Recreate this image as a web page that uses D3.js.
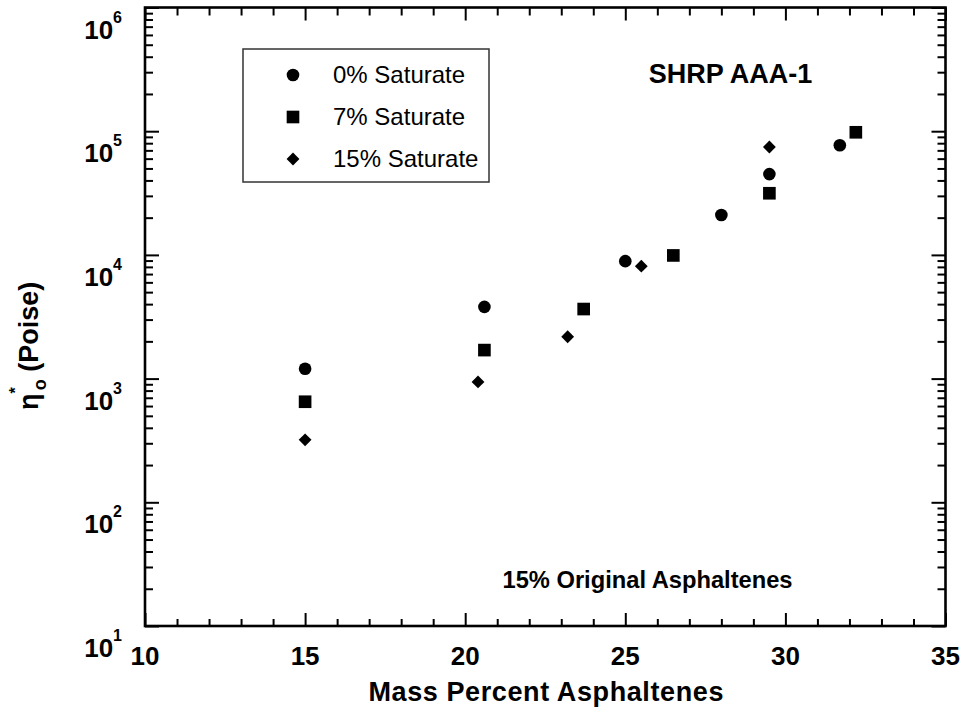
<!DOCTYPE html>
<html>
<head>
<meta charset="utf-8">
<script src="https://cdn.jsdelivr.net/npm/d3@7"></script>
<style>
	body { margin: 0; background: #fff; }
	text { font-family: "Liberation Sans", Arial, Helvetica, sans-serif; fill: #000; }
</style>
</head>
<body>
<div id="chart_viscosity"></div>
<script>
////////////////////////////////////////////////////////////////////////////////////////
// data
////////////////////////////////////////////////////////////////////////////////////////
var sat0X  = [15, 20.6, 25.0, 28.0, 29.5, 31.7];
var sat0Y  = [1200, 3800, 8900, 21000, 45000, 77000];
var sat7X  = [15, 20.6, 23.7, 26.5, 29.5, 32.2];
var sat7Y  = [650, 1700, 3650, 9900, 31500, 98000];
var sat15X = [15, 20.4, 23.2, 25.5, 29.5];
var sat15Y = [320, 940, 2180, 8100, 74500];

var seriesNames = ["0% Saturate", "7% Saturate", "15% Saturate"];
var xMajorTicks = [10, 15, 20, 25, 30, 35];
var yMajorTicks = [10, 100, 1000, 10000, 100000, 1000000];

////////////////////////////////////////////////////////////////////////////////////////
// chart
////////////////////////////////////////////////////////////////////////////////////////
function drawViscosityChart() {
	var W = 967, H = 711;
	var margin = {top: 7.5, right: 21.5, bottom: 85, left: 145};
	var width = W - margin.left - margin.right,
		height = H - margin.top - margin.bottom;

	var svg = d3.select("#chart_viscosity")
		.append("svg")
		.attr("width", W)
		.attr("height", H);

	var g = svg.append("g")
		.attr("transform", `translate(${margin.left},${margin.top})`);

	var x = d3.scaleLinear().domain([10, 35]).range([0, width]);
	var y = d3.scaleLog().domain([10, 1e6]).range([height, 0]);

	// minor ticks
	var xMinorTicks = d3.range(10, 36, 1).filter(function (v) { return xMajorTicks.indexOf(v) < 0; });
	var yMinorTicks = [];
	for (var e = 1; e < 6; e++) {
		for (var m = 2; m < 10; m++) yMinorTicks.push(m * Math.pow(10, e));
	}

	function tickAxis(axis, values, size) {
		return axis.tickValues(values).tickSize(size).tickFormat("");
	}

	var axes = [
		[tickAxis(d3.axisBottom(x), xMajorTicks, -13), `translate(0,${height})`],
		[tickAxis(d3.axisBottom(x), xMinorTicks, -7), `translate(0,${height})`],
		[tickAxis(d3.axisTop(x), xMajorTicks, -13), "translate(0,0)"],
		[tickAxis(d3.axisTop(x), xMinorTicks, -8), "translate(0,0)"],
		[tickAxis(d3.axisLeft(y), yMajorTicks, -14), "translate(0,0)"],
		[tickAxis(d3.axisLeft(y), yMinorTicks, -8), "translate(0,0)"],
		[tickAxis(d3.axisRight(y), yMajorTicks, -14), `translate(${width},0)`],
		[tickAxis(d3.axisRight(y), yMinorTicks, -8), `translate(${width},0)`]
	];
	axes.forEach(function (a) {
		var ax = g.append("g").attr("transform", a[1]).call(a[0]);
		ax.select(".domain").remove();
		ax.selectAll("line").attr("stroke", "#000").attr("stroke-width", 2);
	});

	// frame
	g.append("rect")
		.attr("x", 0).attr("y", 0)
		.attr("width", width).attr("height", height)
		.attr("fill", "none")
		.attr("stroke", "#000")
		.attr("stroke-width", 2.6);

	// x tick labels
	g.selectAll(".xlab")
		.data(xMajorTicks)
		.join("text")
		.attr("class", "xlab")
		.attr("x", function (d) { return x(d); })
		.attr("y", height + 39)
		.attr("text-anchor", "middle")
		.style("font-size", "26px")
		.style("font-weight", "bold")
		.text(function (d) { return d; });

	// y tick labels (10^n)
	var ylab = g.selectAll(".ylab")
		.data(yMajorTicks)
		.join("text")
		.attr("class", "ylab")
		.attr("x", -23)
		.attr("y", function (d) { return y(d) + 31; })
		.attr("text-anchor", "end")
		.style("font-size", "26px")
		.style("font-weight", "bold");
	ylab.append("tspan").text("10");
	ylab.append("tspan")
		.attr("dy", -16)
		.style("font-size", "16px")
		.text(function (d) { return Math.round(Math.log10(d)); });

	// axis titles
	svg.append("text")
		.attr("x", margin.left + width / 2 + 1)
		.attr("y", 701)
		.attr("text-anchor", "middle")
		.style("font-size", "27px")
		.style("letter-spacing", "0.6px")
		.style("font-weight", "bold")
		.text("Mass Percent Asphaltenes");

	var yt = svg.append("text")
		.attr("transform", "translate(38,410) rotate(-90)")
		.style("font-size", "27px")
		.style("font-weight", "bold");
	yt.append("tspan").text("η");
	yt.append("tspan").attr("dy", -17).style("font-size", "16px").text("*");
	yt.append("tspan").attr("dx", -3).attr("dy", 25).style("font-size", "18px").text("o");
	yt.append("tspan").attr("dy", -8).text(" (Poise)");

	// symbols
	var symCircle = d3.symbol().type(d3.symbolCircle).size(125);
	var symSquare = d3.symbol().type(d3.symbolSquare).size(160);
	var symDiamond = d3.symbol().type(d3.symbolSquare).size(82);
	var symRotate = [0, 0, 45];
	var symbols = [symCircle, symSquare, symDiamond];

	var series = [
		d3.zip(sat0X, sat0Y),
		d3.zip(sat7X, sat7Y),
		d3.zip(sat15X, sat15Y)
	];

	series.forEach(function (pts, i) {
		g.append("g")
			.selectAll("path")
			.data(pts)
			.join("path")
			.attr("d", symbols[i]())
			.attr("fill", "#000")
			.attr("transform", function (d) {
				return `translate(${x(d[0])},${y(d[1])}) rotate(${symRotate[i]})`;
			});
	});

	// legend
	var lg = svg.append("g");
	lg.append("rect")
		.attr("x", 243).attr("y", 49)
		.attr("width", 246).attr("height", 133)
		.attr("fill", "#fff")
		.attr("stroke", "#333")
		.attr("stroke-width", 1.5);

	seriesNames.forEach(function (name, i) {
		var cy = 75 + i * 42;
		lg.append("path")
			.attr("d", symbols[i]())
			.attr("fill", "#000")
			.attr("transform", `translate(293,${cy}) rotate(${symRotate[i]})`);
		lg.append("text")
			.attr("x", 333)
			.attr("y", cy)
			.attr("dy", "0.35em")
			.style("font-size", "24px")
			.text(name);
	});

	// annotations
	svg.append("text")
		.attr("x", 730.5)
		.attr("y", 83)
		.attr("text-anchor", "middle")
		.style("font-size", "27px")
		.style("font-weight", "bold")
		.text("SHRP AAA-1");

	svg.append("text")
		.attr("x", 647.5)
		.attr("y", 588)
		.attr("text-anchor", "middle")
		.style("font-size", "23.7px")
		.style("font-weight", "bold")
		.text("15% Original Asphaltenes");
}

drawViscosityChart();
</script>
</body>
</html>
